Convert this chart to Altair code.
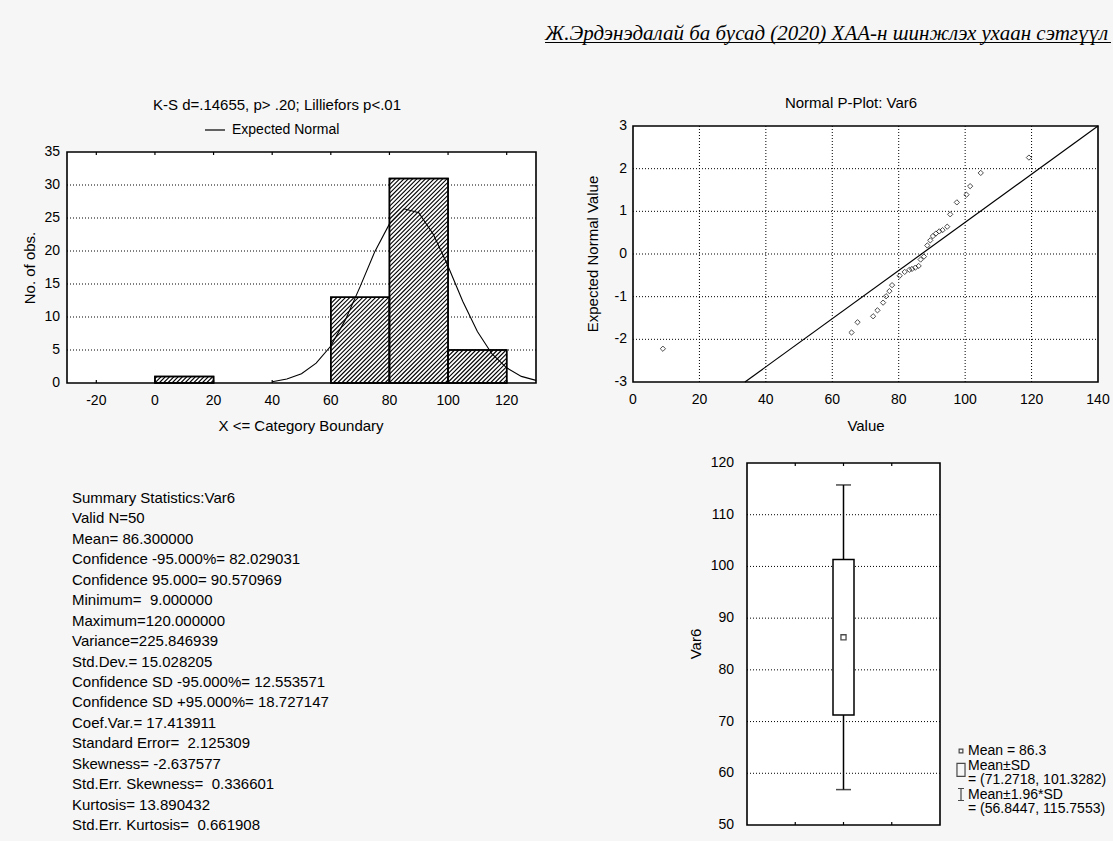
import altair as alt
import pandas as pd

FONT = "Liberation Sans"
SERIF = "Liberation Serif"
W, H = 1113, 841

# ---------------- data ----------------
# histogram (category boundaries and counts)
bin_lo = [0, 60, 80, 100]
bin_hi = [20, 80, 100, 120]
bin_count = [1, 13, 31, 5]

# expected normal curve
normal_x = [40, 45, 50, 55, 60, 65, 70, 75, 80, 85, 90, 95, 100, 105, 110, 115, 120, 125, 130]
normal_y = [0.2, 0.6, 1.4, 3.0, 5.6, 9.6, 14.6, 19.9, 24.1, 26.4, 25.8, 22.5, 17.7, 12.4, 7.8, 4.4, 2.3, 1.0, 0.4]

# normal probability plot points
pp_value = [9, 65.8, 67.6, 72.3, 73.6, 75.3, 76.2, 77.2, 78.0, 80.3, 81.8, 83.2, 84.0, 85.0,
            86.0, 86.6, 87.6, 88.6, 89.5, 90.3, 91.2, 92.2, 93.2, 94.6, 95.5, 97.5, 100.4,
            101.5, 104.7, 119.2]
pp_expected = [-2.22, -1.84, -1.60, -1.46, -1.32, -1.14, -0.99, -0.87, -0.73, -0.51, -0.42,
               -0.37, -0.35, -0.32, -0.28, -0.13, -0.06, 0.20, 0.32, 0.42, 0.48, 0.53, 0.56,
               0.64, 0.93, 1.21, 1.39, 1.59, 1.90, 2.26]
pp_line_value = [33.7, 140]
pp_line_expected = [-3, 3]

# box plot
box_mean = [86.3]
box_sd = [71.2718, 101.3282]
box_ci = [56.8447, 115.7553]

# tick labels
hist_x_ticks = [-20, 0, 20, 40, 60, 80, 100, 120]
hist_y_ticks = [0, 5, 10, 15, 20, 25, 30, 35]
hist_grid = [5, 10, 15, 20, 25, 30]
pp_x_ticks = [0, 20, 40, 60, 80, 100, 120, 140]
pp_y_ticks = [-3, -2, -1, 0, 1, 2, 3]
pp_x_grid = [20, 40, 60, 80, 100, 120]
pp_y_grid = [-2, -1, 0, 1, 2]
box_x_ticks = [1, 2, 3]
box_y_ticks = [50, 60, 70, 80, 90, 100, 110, 120]
box_grid = [60, 70, 80, 90, 100, 110]

NB = "\u00a0"
stats_lines = [
    "Summary Statistics:Var6",
    "Valid N=50",
    "Mean= 86.300000",
    "Confidence -95.000%= 82.029031",
    "Confidence 95.000= 90.570969",
    "Minimum=" + NB + NB + "9.000000",
    "Maximum=120.000000",
    "Variance=225.846939",
    "Std.Dev.= 15.028205",
    "Confidence SD -95.000%= 12.553571",
    "Confidence SD +95.000%= 18.727147",
    "Coef.Var.= 17.413911",
    "Standard Error=" + NB + NB + "2.125309",
    "Skewness= -2.637577",
    "Std.Err. Skewness=" + NB + NB + "0.336601",
    "Kurtosis= 13.890432",
    "Std.Err. Kurtosis=" + NB + NB + "0.661908",
]
legend_lines = [
    "Mean = 86.3",
    "Mean\u00b1SD",
    "= (71.2718, 101.3282)",
    "Mean\u00b11.96*SD",
    "= (56.8447, 115.7553)",
]
hist_title = "K-S d=.14655, p> .20; Lilliefors p<.01"
hist_legend = "Expected Normal"
hist_xtitle = "X <= Category Boundary"
hist_ytitle = "No. of obs."
pp_title = "Normal P-Plot: Var6"
pp_xtitle = "Value"
pp_ytitle = "Expected Normal Value"
box_ytitle = "Var6"
header = "\u0416.\u042d\u0440\u0434\u044d\u043d\u044d\u0434\u0430\u043b\u0430\u0439 \u0431\u0430 \u0431\u0443\u0441\u0430\u0434 (2020) \u0425\u0410\u0410-\u043d \u0448\u0438\u043d\u0436\u043b\u044d\u0445 \u0443\u0445\u0430\u0430\u043d \u0441\u044d\u0442\u0433\u04af\u04af\u043b"

# ---------------- layout (pixel ranges of each panel) ----------------
HXD, HX = [-30, 130], [67, 536]
HYD, HY = [0, 35], [383, 152]
PXD, PX = [0, 140], [633, 1098]
PYD, PY = [-3, 3], [382, 126]
BXD, BX = [0, 4], [742, 945]
BYD, BY = [50, 120], [825, 463]
LBL = 14
TTL = 15
TICK_PX = 3


def sc(d, r):
    return alt.Scale(domain=d, range=r, nice=False, zero=False)


def frame_df(xd, yd):
    return pd.DataFrame({"x0": [xd[0]], "x1": [xd[1]], "y0": [yd[0]], "y1": [yd[1]]})


def panel_bg(xd, yd, xs, ys):
    return alt.Chart(frame_df(xd, yd)).mark_rect(color="white").encode(
        x=alt.X("x0:Q", scale=xs, axis=None), x2="x1",
        y=alt.Y("y0:Q", scale=ys, axis=None), y2="y1")


def panel_frame(xd, yd, xs, ys):
    return alt.Chart(frame_df(xd, yd)).mark_rect(
        fill="transparent", stroke="black", strokeWidth=1.6).encode(
        x=alt.X("x0:Q", scale=xs, axis=None), x2="x1",
        y=alt.Y("y0:Q", scale=ys, axis=None), y2="y1")


def hgrid(vals, xd, xs, ys):
    df = pd.DataFrame({"v": vals, "a": xd[0], "b": xd[1]})
    return alt.Chart(df).mark_rule(color="black", strokeWidth=1, strokeDash=[1, 2]).encode(
        y=alt.Y("v:Q", scale=ys, axis=None), x=alt.X("a:Q", scale=xs, axis=None), x2="b")


def vgrid(vals, yd, xs, ys):
    df = pd.DataFrame({"v": vals, "a": yd[0], "b": yd[1]})
    return alt.Chart(df).mark_rule(color="black", strokeWidth=1, strokeDash=[1, 2]).encode(
        x=alt.X("v:Q", scale=xs, axis=None), y=alt.Y("a:Q", scale=ys, axis=None), y2="b")


def edge_ticks(vals, yd, ypx, xs, ys):
    # short inward tick marks on the top and bottom edges of a panel
    unit = (yd[1] - yd[0]) / (ypx[0] - ypx[1]) * TICK_PX
    rows = []
    for v in vals:
        rows.append({"v": v, "a": yd[0], "b": yd[0] + unit})
        rows.append({"v": v, "a": yd[1], "b": yd[1] - unit})
    return alt.Chart(pd.DataFrame(rows)).mark_rule(color="black", strokeWidth=1.2).encode(
        x=alt.X("v:Q", scale=xs, axis=None), y=alt.Y("a:Q", scale=ys, axis=None), y2="b")


def xlabels(ticks, xs, ypix):
    df = pd.DataFrame({"v": ticks, "t": [str(v) for v in ticks]})
    return alt.Chart(df).mark_text(font=FONT, fontSize=LBL, color="black", align="center",
                                   baseline="middle").encode(
        x=alt.X("v:Q", scale=xs, axis=None), y=alt.value(ypix), text="t:N")


def ylabels(ticks, ys, xpix):
    df = pd.DataFrame({"v": ticks, "t": [str(v) for v in ticks]})
    return alt.Chart(df).mark_text(font=FONT, fontSize=LBL, color="black", align="right",
                                   baseline="middle").encode(
        y=alt.Y("v:Q", scale=ys, axis=None), x=alt.value(xpix), text="t:N")


def label(txt, x, y, size=TTL, angle=0, align="center"):
    return alt.Chart(pd.DataFrame({"t": [txt]})).mark_text(
        font=FONT, fontSize=size, color="black", align=align, baseline="middle",
        angle=angle).encode(x=alt.value(x), y=alt.value(y), text="t:N")


# ---------------- histogram ----------------
hxs, hys = sc(HXD, HX), sc(HYD, HY)
bars_df = pd.DataFrame({"lo": bin_lo, "hi": bin_hi, "n": bin_count, "z": 0})


def hatch_segments(step=4.3):
    sx = (HX[1] - HX[0]) / (HXD[1] - HXD[0])
    sy = (HY[0] - HY[1]) / (HYD[1] - HYD[0])
    rows = []
    for a, b, n in zip(bin_lo, bin_hi, bin_count):
        X0 = HX[0] + (a - HXD[0]) * sx
        X1 = HX[0] + (b - HXD[0]) * sx
        Yt = HY[0] - (n - HYD[0]) * sy
        Yb = HY[0] - (0 - HYD[0]) * sy
        c = X0 + Yt + step / 2
        while c < X1 + Yb:
            xa = max(X0, c - Yb)
            xb = min(X1, c - Yt)
            if xb > xa:
                rows.append({
                    "x": (xa - HX[0]) / sx + HXD[0], "y": (HY[0] - (c - xa)) / sy + HYD[0],
                    "x2": (xb - HX[0]) / sx + HXD[0], "y2": (HY[0] - (c - xb)) / sy + HYD[0]})
            c += step
    return pd.DataFrame(rows)


hist_bars = alt.Chart(bars_df).mark_rect(fill="white", stroke="black", strokeWidth=1.5).encode(
    x=alt.X("lo:Q", scale=hxs, axis=None), x2="hi",
    y=alt.Y("z:Q", scale=hys, axis=None), y2="n")
hist_hatch = alt.Chart(hatch_segments()).mark_rule(color="black", strokeWidth=1.1).encode(
    x=alt.X("x:Q", scale=hxs, axis=None), y=alt.Y("y:Q", scale=hys, axis=None), x2="x2", y2="y2")
hist_outline = alt.Chart(bars_df).mark_rect(fill="transparent", stroke="black", strokeWidth=1.5).encode(
    x=alt.X("lo:Q", scale=hxs, axis=None), x2="hi",
    y=alt.Y("z:Q", scale=hys, axis=None), y2="n")
curve = alt.Chart(pd.DataFrame({"x": normal_x, "y": normal_y})).mark_line(
    color="black", strokeWidth=1.1).encode(
    x=alt.X("x:Q", scale=hxs, axis=None), y=alt.Y("y:Q", scale=hys, axis=None))
hist = alt.layer(
    panel_bg(HXD, HYD, hxs, hys), hgrid(hist_grid, HXD, hxs, hys), hist_bars, hist_hatch,
    hist_outline, curve, edge_ticks(hist_x_ticks, HYD, HY, hxs, hys),
    panel_frame(HXD, HYD, hxs, hys),
    xlabels(hist_x_ticks, hxs, 401), ylabels(hist_y_ticks, hys, 60))

# ---------------- normal probability plot ----------------
pxs, pys = sc(PXD, PX), sc(PYD, PY)
pp_line = alt.Chart(pd.DataFrame({"x": pp_line_value, "y": pp_line_expected})).mark_line(
    color="black", strokeWidth=1.2).encode(
    x=alt.X("x:Q", scale=pxs, axis=None), y=alt.Y("y:Q", scale=pys, axis=None))
pp_pts = alt.Chart(pd.DataFrame({"x": pp_value, "y": pp_expected})).mark_point(
    shape="diamond", filled=False, size=28, color="black", strokeWidth=1).encode(
    x=alt.X("x:Q", scale=pxs, axis=None), y=alt.Y("y:Q", scale=pys, axis=None))
pp = alt.layer(
    panel_bg(PXD, PYD, pxs, pys), hgrid(pp_y_grid, PXD, pxs, pys), vgrid(pp_x_grid, PYD, pxs, pys),
    pp_line, pp_pts, panel_frame(PXD, PYD, pxs, pys),
    xlabels(pp_x_ticks, pxs, 400), ylabels(pp_y_ticks, pys, 627))

# ---------------- box plot ----------------
bxs, bys = sc(BXD, BX), sc(BYD, BY)
box_df = pd.DataFrame({"c": [2], "lo": [box_sd[0]], "hi": [box_sd[1]],
                       "wlo": [box_ci[0]], "whi": [box_ci[1]], "m": box_mean})
whisker = alt.Chart(box_df).mark_rule(color="black", strokeWidth=1.5).encode(
    x=alt.X("c:Q", scale=bxs, axis=None), y=alt.Y("wlo:Q", scale=bys, axis=None), y2="whi")
caps = alt.Chart(pd.DataFrame({"c": [2, 2], "v": box_ci})).mark_tick(
    orient="horizontal", size=15, thickness=1.5, color="black").encode(
    x=alt.X("c:Q", scale=bxs, axis=None), y=alt.Y("v:Q", scale=bys, axis=None))
box_rect = alt.Chart(box_df).mark_bar(size=21, fill="white", stroke="black", strokeWidth=1.5).encode(
    x=alt.X("c:Q", scale=bxs, axis=None), y=alt.Y("lo:Q", scale=bys, axis=None), y2="hi")
mean_pt = alt.Chart(box_df).mark_point(shape="square", filled=False, size=26, color="black",
                                       strokeWidth=1.3).encode(
    x=alt.X("c:Q", scale=bxs, axis=None), y=alt.Y("m:Q", scale=bys, axis=None))
box = alt.layer(
    panel_bg(BXD, BYD, bxs, bys), hgrid(box_grid, BXD, bxs, bys), whisker, caps, box_rect,
    mean_pt, edge_ticks(box_x_ticks, BYD, BY, bxs, bys), panel_frame(BXD, BYD, bxs, bys),
    ylabels(box_y_ticks, bys, 734))

# ---------------- text blocks ----------------
stats = alt.Chart(pd.DataFrame({"i": list(range(len(stats_lines))), "t": stats_lines})).mark_text(
    align="left", baseline="middle", font=FONT, fontSize=15, color="black").encode(
    y=alt.Y("i:Q", scale=sc([0, 16], [498, 825]), axis=None), x=alt.value(72), text="t:N")

legend_txt = alt.Chart(pd.DataFrame({"i": list(range(len(legend_lines))), "t": legend_lines})).mark_text(
    align="left", baseline="middle", font=FONT, fontSize=14, color="black").encode(
    y=alt.Y("i:Q", scale=sc([0, 4], [751, 809]), axis=None), x=alt.value(968), text="t:N")
legend_sym = alt.Chart(pd.DataFrame({
    "i": [0, 1.3, 3],
    "s": ["square",
          "M-0.62,-1L0.62,-1L0.62,1L-0.62,1Z",
          "M-0.5,-1L0.5,-1M0,-1L0,1M-0.5,1L0.5,1"],
    "z": [14, 169, 144]})).mark_point(filled=False, color="black", strokeWidth=1.2).encode(
    y=alt.Y("i:Q", scale=sc([0, 4], [751, 809]), axis=None), x=alt.value(961),
    shape=alt.Shape("s:N", scale=None), size=alt.Size("z:Q", scale=None))

t_hist_line = alt.Chart(pd.DataFrame({"t": [0]})).mark_rule(color="black", strokeWidth=1.2).encode(
    x=alt.value(205), x2=alt.value(225), y=alt.value(130))
t_head_line = alt.Chart(pd.DataFrame({"t": [0]})).mark_rule(color="black", strokeWidth=1).encode(
    x=alt.value(545), x2=alt.value(1111), y=alt.value(42.5))
t_head = alt.Chart(pd.DataFrame({"t": [header]})).mark_text(
    font=SERIF, fontSize=21, fontStyle="italic", color="black", align="left",
    baseline="alphabetic").encode(x=alt.value(545), y=alt.value(40), text="t:N")

texts = [
    label(hist_title, 277, 105),
    label(hist_legend, 232, 130, size=14, align="left"),
    label(pp_title, 851, 103),
    label(hist_xtitle, 301, 426),
    label(pp_xtitle, 866, 426),
    label(hist_ytitle, 30, 268, angle=270),
    label(pp_ytitle, 593, 254, angle=270),
    label(box_ytitle, 696, 644, angle=270),
]

chart = alt.layer(
    hist, pp, box, stats, legend_sym, legend_txt, t_hist_line, t_head, t_head_line, *texts
).resolve_scale(
    x="independent", y="independent"
).properties(
    width=W, height=H, autosize=alt.AutoSizeParams(type="none"), padding=0,
    background="#f6f6f6"
).configure_view(strokeWidth=0)

chart.save("out.html", embed_options={"renderer": "svg", "actions": False})
